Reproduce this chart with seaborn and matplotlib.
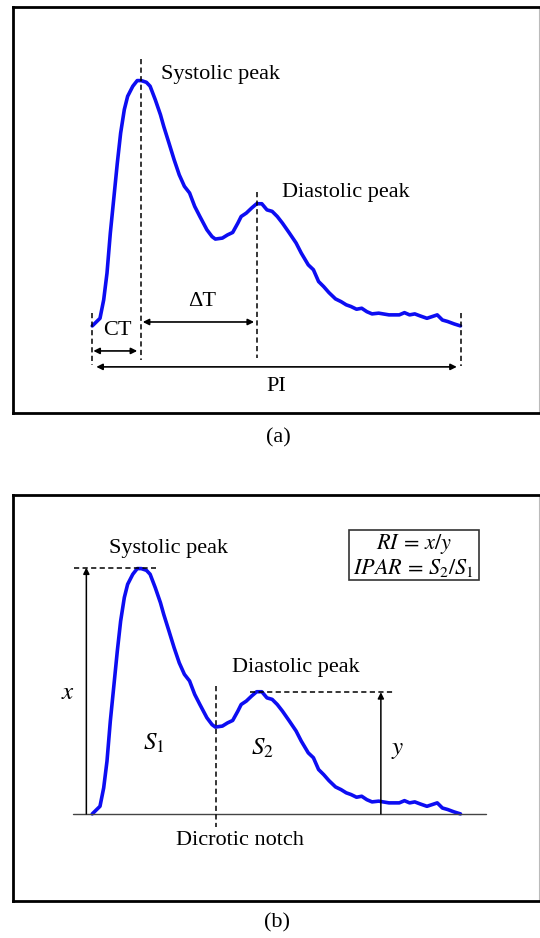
import numpy as np
import pandas as pd
import matplotlib
matplotlib.use("Agg")
import matplotlib.pyplot as plt
from matplotlib.patches import Rectangle
import seaborn as sns

# ---- waveform (normalised time within one pulse interval, normalised amplitude)
t_vals = [0.000, 0.021, 0.031, 0.040, 0.049, 0.059, 0.068, 0.077, 0.087, 0.096,
          0.110, 0.122, 0.133, 0.147, 0.157, 0.171, 0.185, 0.194, 0.208, 0.222,
          0.236, 0.250, 0.264, 0.278, 0.292, 0.311, 0.325, 0.334, 0.353, 0.367,
          0.381, 0.395, 0.404, 0.418, 0.432, 0.446, 0.460, 0.474, 0.488, 0.502,
          0.516, 0.535, 0.553, 0.567, 0.586, 0.600, 0.614, 0.628, 0.642, 0.660,
          0.675, 0.689, 0.702, 0.717, 0.731, 0.745, 0.759, 0.777, 0.805, 0.833,
          0.847, 0.861, 0.875, 0.889, 0.908, 0.922, 0.936, 0.950, 0.964, 0.982,
          0.999]
amp_vals = [0.000, 0.031, 0.106, 0.215, 0.378, 0.528, 0.664, 0.786, 0.882, 0.936,
            0.977, 1.000, 1.000, 0.993, 0.977, 0.922, 0.861, 0.813, 0.746, 0.678,
            0.616, 0.569, 0.542, 0.487, 0.446, 0.392, 0.364, 0.354, 0.358, 0.371,
            0.381, 0.419, 0.446, 0.460, 0.480, 0.498, 0.498, 0.473, 0.467, 0.446,
            0.419, 0.378, 0.338, 0.297, 0.249, 0.229, 0.181, 0.160, 0.136, 0.110,
            0.099, 0.086, 0.079, 0.068, 0.072, 0.058, 0.049, 0.052, 0.045, 0.045,
            0.054, 0.045, 0.049, 0.041, 0.031, 0.038, 0.045, 0.024, 0.018, 0.008,
            0.000]

# ---- key feature positions
t_start, t_sys, t_notch, t_dia, t_end = 0.0, 0.131, 0.337, 0.447, 1.0
a_sys, a_notch, a_dia = 1.0, 0.354, 0.496

labels_a = ["Systolic peak", "Diastolic peak", "CT", "\u0394T", "PI"]
labels_b = ["Systolic peak", "Diastolic peak", "Dicrotic notch"]
formula_lines = [r"$RI\,=\,x/y$", r"$IPAR\,=\,S_2/S_1$"]
captions = ["(a)", "(b)"]

sns.set_theme(style="white")
plt.rcParams['font.family'] = ['Liberation Serif', 'DejaVu Serif']
plt.rcParams['mathtext.fontset'] = 'stix'
plt.rcParams['text.color'] = 'black'

df = pd.DataFrame({'t': t_vals, 'amp': amp_vals})

W, H = 540, 938
fig = plt.figure(figsize=(W / 100, H / 100), dpi=100)
fig.patch.set_facecolor('white')


def rect(x0, y0, x1, y1):
    return [x0 / W, 1 - y1 / H, (x1 - x0) / W, (y1 - y0) / H]


axA = fig.add_axes(rect(13, 7, 539, 413))
axB = fig.add_axes(rect(13, 495, 539, 901))

BLUE = '#0d0df2'
DASH = (0, (3.4, 2.2))
FS = 16

for ax in (axA, axB):
    sns.lineplot(data=df, x='t', y='amp', ax=ax, color=BLUE, lw=2.6,
                 sort=False, estimator=None)
    ax.set_xlim(-0.215, 1.212)
    ax.set_ylim(-0.355, 1.30)
    ax.set_xticks([])
    ax.set_yticks([])
    ax.set_xlabel('')
    ax.set_ylabel('')
    ax.set_facecolor('white')
    for s in ['left', 'top', 'bottom']:
        ax.spines[s].set_linewidth(2.0)
        ax.spines[s].set_color('black')
    ax.spines['right'].set_linewidth(0.8)
    ax.spines['right'].set_color('#bbbbbb')


def dashed(ax, xs, ys):
    ax.plot(xs, ys, color='black', lw=1.1, ls=DASH)


def darrow(ax, x0, x1, y):
    ax.annotate('', xy=(x1, y), xytext=(x0, y),
                arrowprops=dict(arrowstyle='<|-|>', color='black', lw=1.2,
                                mutation_scale=9, shrinkA=0, shrinkB=0))


def uparrow(ax, x, y0, y1):
    ax.annotate('', xy=(x, y1), xytext=(x, y0),
                arrowprops=dict(arrowstyle='-|>', color='black', lw=1.1,
                                mutation_scale=9, shrinkA=0, shrinkB=0))


# ---------------- panel (a)
dashed(axA, [t_start, t_start], [0.053, -0.160])
dashed(axA, [t_sys, t_sys], [1.090, -0.139])
dashed(axA, [t_dia, t_dia], [0.547, -0.131])
dashed(axA, [t_end, t_end], [0.053, -0.163])

darrow(axA, t_sys + 0.006, t_dia - 0.008, 0.016)
darrow(axA, t_start + 0.003, t_sys - 0.009, -0.102)
darrow(axA, t_start + 0.011, t_end - 0.011, -0.167)

axA.text(0.187, 1.024, labels_a[0], fontsize=FS, ha='left', va='center')
axA.text(0.515, 0.543, labels_a[1], fontsize=FS, ha='left', va='center')
axA.text(0.068, -0.020, labels_a[2], fontsize=FS, ha='center', va='center')
axA.text(0.298, 0.098, labels_a[3], fontsize=FS, ha='center', va='center')
axA.text(0.499, -0.249, labels_a[4], fontsize=FS, ha='center', va='center')

# ---------------- panel (b)
axB.plot([-0.052, 1.068], [0, 0], color='#444444', lw=1.0)
dashed(axB, [-0.049, 0.174], [a_sys + 0.004, a_sys + 0.004])
dashed(axB, [0.427, 0.815], [a_dia, a_dia])
dashed(axB, [t_notch, t_notch], [0.520, -0.053])
uparrow(axB, -0.016, 0.0, a_sys + 0.004)
uparrow(axB, 0.783, 0.0, a_dia)

axB.text(0.046, 1.081, labels_b[0], fontsize=FS, ha='left', va='center')
axB.text(0.378, 0.598, labels_b[1], fontsize=FS, ha='left', va='center')
axB.text(0.401, -0.110, labels_b[2], fontsize=FS, ha='center', va='center')

axB.text(-0.065, 0.492, r"$x$", fontsize=18, ha='center', va='center')
axB.text(0.829, 0.260, r"$y$", fontsize=18, ha='center', va='center')
axB.text(0.166, 0.289, r"$S_1$", fontsize=18, ha='center', va='center')
axB.text(0.462, 0.268, r"$S_2$", fontsize=18, ha='center', va='center')

axB.add_patch(Rectangle((0.696, 0.955), 1.049 - 0.696, 1.159 - 0.955,
                        fill=True, fc='white', ec='#333333', lw=1.2, zorder=3))
axB.text(0.872, 1.102, formula_lines[0], fontsize=16, ha='center', va='center', zorder=4)
axB.text(0.872, 1.004, formula_lines[1], fontsize=16, ha='center', va='center', zorder=4)

fig.text(278 / W, 1 - 438 / H, captions[0], fontsize=FS, ha='center', va='center')
fig.text(277 / W, 1 - 923 / H, captions[1], fontsize=FS, ha='center', va='center')

fig.savefig('out.png', dpi=100, facecolor='white')
